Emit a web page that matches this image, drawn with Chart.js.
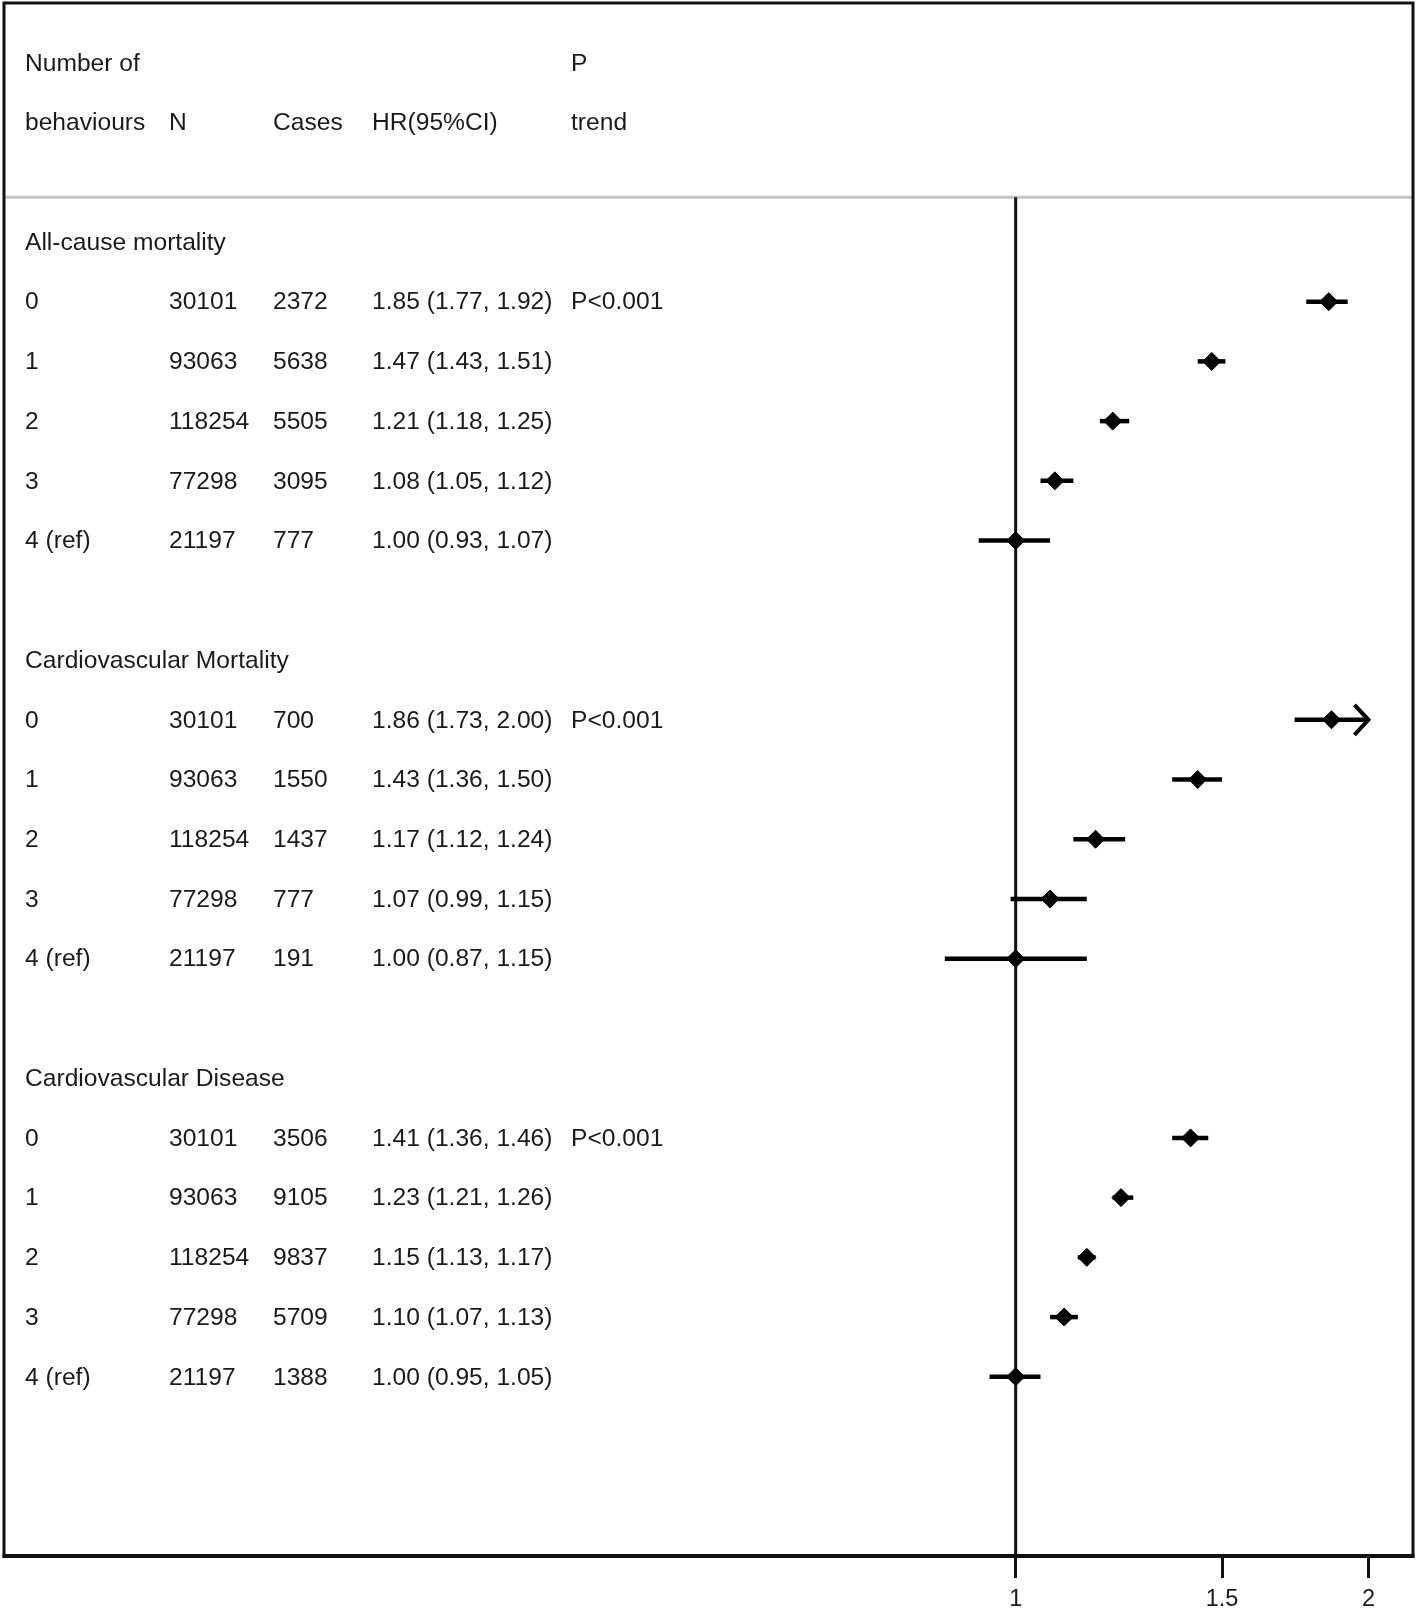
<!DOCTYPE html>
<html>
<head>
<meta charset="utf-8">
<title>Forest plot</title>
<script src="https://cdn.jsdelivr.net/npm/chart.js@4/dist/chart.umd.min.js"></script>
<style>
  html, body { margin: 0; padding: 0; background: #fff; }
  canvas { display: block; }
</style>
</head>
<body>
<canvas id="forest" width="1418" height="1610"></canvas>
<script>
// data
const outcomes = ['All-cause mortality', 'Cardiovascular Mortality', 'Cardiovascular Disease'];
const behaviours = ['0', '1', '2', '3', '4 (ref)'];
const nCounts = [30101, 93063, 118254, 77298, 21197];
const cases = [
  [2372, 5638, 5505, 3095, 777],
  [700, 1550, 1437, 777, 191],
  [3506, 9105, 9837, 5709, 1388]
];
const hr = [
  [1.85, 1.47, 1.21, 1.08, 1.00],
  [1.86, 1.43, 1.17, 1.07, 1.00],
  [1.41, 1.23, 1.15, 1.10, 1.00]
];
const ciLow = [
  [1.77, 1.43, 1.18, 1.05, 0.93],
  [1.73, 1.36, 1.12, 0.99, 0.87],
  [1.36, 1.21, 1.13, 1.07, 0.95]
];
const ciHigh = [
  [1.92, 1.51, 1.25, 1.12, 1.07],
  [2.00, 1.50, 1.24, 1.15, 1.15],
  [1.46, 1.26, 1.17, 1.13, 1.05]
];
const pTrend = ['P<0.001', 'P<0.001', 'P<0.001'];
const xTicks = [1, 1.5, 2];
const ciClip = 2; // CIs reaching this get an arrow

const FONT = '"Liberation Sans", Arial, sans-serif';
const INK = '#1a1a1a';

// row index on the y scale: header rows 0-1, then 7 rows per outcome
const headerRow = g => 3 + 7 * g;
const itemRow = (g, i) => 4 + 7 * g + i;

const points = [];
outcomes.forEach((o, g) => {
  behaviours.forEach((b, i) => {
    points.push({ x: hr[g][i], y: itemRow(g, i) });
  });
});

const cols = { label: 25, n: 169, cases: 273, hr: 372, p: 571 };

const forestPlugin = {
  id: 'forest',
  beforeDatasetsDraw(chart) {
    const { ctx, chartArea, scales: { x, y } } = chart;
    ctx.save();

    // grey line under the header
    const yHead = y.getPixelForValue(2.25);
    ctx.strokeStyle = '#c4c4c4';
    ctx.lineWidth = 3;
    ctx.beginPath();
    ctx.moveTo(chartArea.left, yHead);
    ctx.lineTo(chartArea.right, yHead);
    ctx.stroke();

    // reference line at HR = 1
    const x1 = x.getPixelForValue(1);
    ctx.strokeStyle = '#111';
    ctx.lineWidth = 3;
    ctx.beginPath();
    ctx.moveTo(x1, yHead);
    ctx.lineTo(x1, chartArea.bottom);
    ctx.stroke();

    // confidence intervals
    ctx.lineWidth = 4.5;
    ctx.strokeStyle = '#000';
    outcomes.forEach((o, g) => {
      behaviours.forEach((b, i) => {
        const py = y.getPixelForValue(itemRow(g, i));
        const hi = Math.min(ciHigh[g][i], ciClip);
        const xa = x.getPixelForValue(ciLow[g][i]);
        const xb = x.getPixelForValue(hi);
        ctx.beginPath();
        ctx.moveTo(xa, py);
        ctx.lineTo(xb, py);
        ctx.stroke();
        if (ciHigh[g][i] >= ciClip) {
          ctx.lineWidth = 4;
          ctx.beginPath();
          ctx.moveTo(xb - 14, py - 15);
          ctx.lineTo(xb, py);
          ctx.lineTo(xb - 14, py + 15);
          ctx.stroke();
          ctx.lineWidth = 4.5;
        }
      });
    });

    // table text
    ctx.fillStyle = INK;
    ctx.font = '24.6px ' + FONT;
    ctx.textBaseline = 'middle';
    ctx.textAlign = 'left';
    const dy = 1;
    const r0 = y.getPixelForValue(0) + dy, r1 = y.getPixelForValue(1) + dy;
    ctx.fillText('Number of', cols.label, r0);
    ctx.fillText('P', cols.p, r0);
    ctx.fillText('behaviours', cols.label, r1);
    ctx.fillText('N', cols.n, r1);
    ctx.fillText('Cases', cols.cases, r1);
    ctx.fillText('HR(95%CI)', cols.hr, r1);
    ctx.fillText('trend', cols.p, r1);

    outcomes.forEach((o, g) => {
      ctx.fillText(o, cols.label, y.getPixelForValue(headerRow(g)) + dy);
      behaviours.forEach((b, i) => {
        const py = y.getPixelForValue(itemRow(g, i)) + dy;
        ctx.fillText(b, cols.label, py);
        ctx.fillText(String(nCounts[i]), cols.n, py);
        ctx.fillText(String(cases[g][i]), cols.cases, py);
        ctx.fillText(hr[g][i].toFixed(2) + ' (' + ciLow[g][i].toFixed(2) + ', ' + ciHigh[g][i].toFixed(2) + ')', cols.hr, py);
        if (i === 0) ctx.fillText(pTrend[g], cols.p, py);
      });
    });
    ctx.restore();
  },
  afterDraw(chart) {
    const { ctx, chartArea } = chart;
    ctx.save();
    ctx.strokeStyle = '#111';
    ctx.lineWidth = 3;
    ctx.strokeRect(chartArea.left, chartArea.top, chartArea.right - chartArea.left, chartArea.bottom - chartArea.top);
    ctx.lineWidth = 4;
    ctx.beginPath();
    ctx.moveTo(chartArea.left - 1.5, chartArea.bottom);
    ctx.lineTo(chartArea.right + 1.5, chartArea.bottom);
    ctx.stroke();
    ctx.restore();
  }
};

new Chart(document.getElementById('forest'), {
  type: 'scatter',
  data: {
    datasets: [{
      data: points,
      pointStyle: 'rectRot',
      pointRadius: 9,
      pointBackgroundColor: '#000',
      pointBorderColor: '#000',
      pointBorderWidth: 1,
      showLine: false
    }]
  },
  options: {
    responsive: false,
    devicePixelRatio: 1,
    animation: false,
    events: [],
    layout: { autoPadding: false, padding: { left: 4, right: 5, top: 3, bottom: 0 } },
    plugins: { legend: { display: false }, tooltip: { enabled: false } },
    scales: {
      x: {
        type: 'logarithmic',
        min: 0.137,
        max: 2.183,
        afterBuildTicks: s => { s.ticks = xTicks.map(v => ({ value: v })); },
        afterFit: s => { s.height = 54; },
        ticks: {
          autoSkip: false,
          maxRotation: 0,
          padding: 7,
          color: INK,
          font: { family: FONT, size: 23.5 },
          callback: v => String(v)
        },
        grid: { drawOnChartArea: false, tickLength: 22, tickWidth: 3, color: '#111' },
        border: { display: false }
      },
      y: { type: 'linear', min: -1, max: 25, reverse: true, display: false }
    }
  },
  plugins: [forestPlugin]
});
</script>
</body>
</html>
